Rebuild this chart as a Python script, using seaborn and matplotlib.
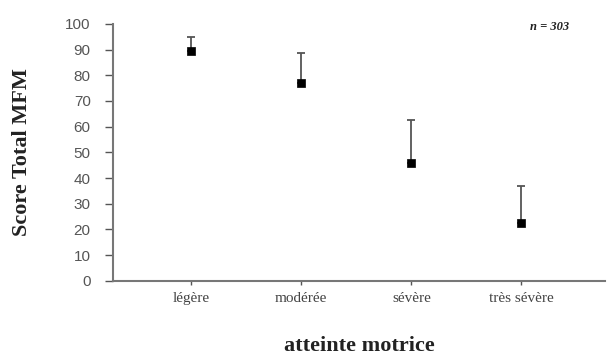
import numpy as np
import pandas as pd
import matplotlib.pyplot as plt
import seaborn as sns

# valeurs
categories = ["légère", "modérée", "sévère", "très sévère"]
moyennes = [89.5, 77.0, 46.0, 22.5]
ecart_haut = [5.5, 11.5, 16.5, 14.5]

df = pd.DataFrame({"atteinte": categories, "score": moyennes})
df["pos"] = np.arange(len(categories))

sns.set_style("white")

fig, ax = plt.subplots(figsize=(6.07, 3.56), dpi=100)
fig.subplots_adjust(left=0.186, right=0.997, bottom=0.211, top=0.933)

# barres d'erreur vers le haut seulement
ax.errorbar(df["pos"], df["score"], yerr=[np.zeros(len(df)), ecart_haut],
            fmt="none", ecolor="#555555", elinewidth=1.3, capsize=3, capthick=1.3, zorder=2)
sns.scatterplot(data=df, x="pos", y="score", marker="s", s=38, color="black",
                edgecolor="black", ax=ax, zorder=3, legend=False)

ax.set_xlim(-0.71, 3.76)
ax.set_ylim(0, 100)
ax.set_yticks(range(0, 101, 10))
ax.set_xticks(df["pos"])
ax.set_xticklabels(categories, fontfamily="Liberation Serif", fontsize=11, color="#444444")
for lab in ax.get_yticklabels():
    lab.set_fontfamily("Liberation Sans")
    lab.set_fontsize(11)
    lab.set_color("#555555")

ax.tick_params(axis="y", direction="out", length=6, width=1, color="#555555", left=True, pad=10)
ax.tick_params(axis="x", direction="out", length=3, width=1, color="#555555", bottom=True, pad=5)

sns.despine(ax=ax)
for sp in ["left", "bottom"]:
    ax.spines[sp].set_color("#777777")
    ax.spines[sp].set_linewidth(1.5)

ax.set_ylabel("Score Total MFM", fontfamily="Liberation Serif", fontweight="bold",
              fontsize=16, color="#222222", labelpad=24)
ax.set_xlabel("atteinte motrice", fontfamily="Liberation Serif", fontweight="bold",
              fontsize=16, color="#222222", labelpad=22)

ax.text(0.888, 0.988, "n = 303", transform=ax.transAxes, ha="center", va="center",
        fontfamily="Liberation Serif", fontweight="bold", fontstyle="italic",
        fontsize=9, color="#222222")

plt.savefig("out.png", dpi=100)
